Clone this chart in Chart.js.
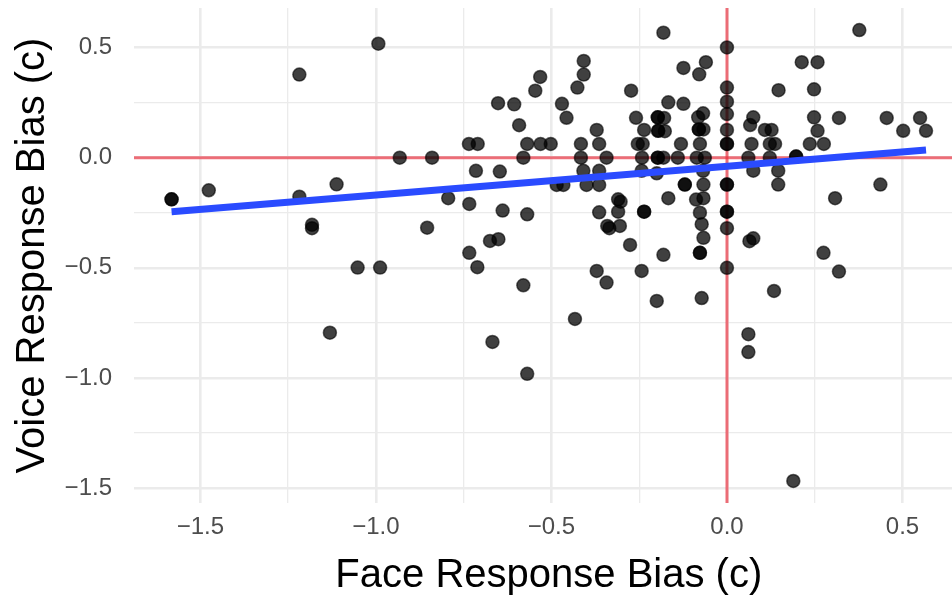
<!DOCTYPE html>
<html>
<head>
<meta charset="utf-8">
<script src="https://cdn.jsdelivr.net/npm/chart.js@4.4.1/dist/chart.umd.min.js"></script>
<style>
  html, body { margin: 0; padding: 0; background: #fff; overflow: hidden; }
  canvas { display: block; }
</style>
</head>
<body>
<canvas id="biasChart" width="952" height="599"></canvas>
<script>
// face bias (x) and voice bias (y), one entry per participant
const faceBias = [
  -1.582, -1.582, -1.476, -1.218, -1.218, -1.182, -1.182, -1.112, -1.131, -1.052,
  -0.988, -0.993, -0.932, -0.840, -0.854, -0.794, -0.735, -0.710, -0.715, -0.734,
  -0.734, -0.711, -0.675, -0.651, -0.668, -0.652, -0.606, -0.647, -0.639, -0.592,
  -0.580, -0.569, -0.569, -0.580, -0.569, -0.546, -0.532, -0.531, -0.502, -0.485,
  -0.466, -0.470, -0.457, -0.433, -0.426, -0.408, -0.408, -0.416, -0.416, -0.409,
  -0.400, -0.371, -0.364, -0.364, -0.364, -0.364, -0.371, -0.343, -0.341, -0.335,
  -0.343, -0.310, -0.303, -0.310, -0.305, -0.276, -0.273, -0.259, -0.254, -0.240,
  -0.242, -0.243, -0.236, -0.236, -0.236, -0.243, -0.200, -0.200, -0.197, -0.197,
  -0.179, -0.196, -0.196, -0.177, -0.197, -0.197, -0.181, -0.181, -0.181, -0.167,
  -0.167, -0.140, -0.131, -0.124, -0.124, -0.120, -0.120, -0.060, -0.079, -0.082,
  -0.068, -0.080, -0.080, -0.067, -0.077, -0.086, -0.063, -0.068, -0.067, -0.088,
  -0.067, -0.077, -0.072, -0.067, -0.077, -0.077, -0.072, 0.000, 0.000, 0.000,
  0.000, 0.000, 0.000, 0.000, 0.000, 0.000, 0.000, 0.000, 0.000, 0.000,
  0.061, 0.070, 0.075, 0.066, 0.075, 0.075, 0.064, 0.061, 0.061, 0.108,
  0.127, 0.122, 0.137, 0.122, 0.146, 0.146, 0.147, 0.134, 0.189, 0.197,
  0.197, 0.213, 0.258, 0.248, 0.248, 0.258, 0.236, 0.276, 0.275, 0.308,
  0.319, 0.319, 0.377, 0.437, 0.455, 0.502, 0.550, 0.567
];
const voiceBias = [
  -0.189, -0.189, -0.148, 0.377, -0.177, -0.305, -0.320, -0.121, -0.794, -0.499,
  -0.499, 0.517, 0.000, 0.000, -0.318, -0.184, 0.062, 0.062, -0.060, -0.210,
  -0.432, -0.497, -0.378, -0.370, -0.836, 0.247, 0.242, -0.063, -0.240, 0.147,
  0.000, 0.062, -0.257, -0.579, -0.981, 0.304, 0.366, 0.062, 0.062, -0.124,
  -0.124, 0.244, 0.181, -0.732, 0.318, 0.439, 0.377, 0.062, 0.000, -0.060,
  -0.124, 0.126, 0.062, -0.060, -0.124, -0.248, -0.514, 0.000, -0.310, -0.320,
  -0.567, -0.189, -0.200, -0.245, -0.310, -0.396, 0.304, 0.181, 0.062, 0.062,
  0.000, -0.060, 0.126, -0.245, -0.245, -0.514, -0.071, -0.650, 0.183, 0.183,
  0.180, 0.122, 0.122, 0.120, 0.000, 0.000, 0.000, 0.567, -0.441, 0.251,
  -0.184, 0.000, 0.062, 0.407, 0.244, -0.122, -0.122, 0.433, 0.378, 0.183,
  0.201, 0.128, 0.128, 0.128, 0.062, 0.000, 0.000, -0.060, -0.122, -0.190,
  -0.184, -0.250, -0.302, -0.364, -0.432, -0.432, -0.637, 0.500, 0.318, 0.254,
  0.198, 0.126, 0.062, 0.062, -0.122, -0.122, -0.245, -0.245, -0.320, -0.500,
  0.000, 0.062, 0.183, 0.148, -0.059, -0.366, -0.379, -0.801, -0.882, 0.126,
  0.126, 0.062, 0.062, 0.000, -0.059, -0.122, 0.306, -0.605, -1.467, 0.005,
  0.005, 0.433, 0.433, 0.310, 0.183, 0.122, 0.062, 0.062, -0.432, -0.184,
  0.180, -0.517, 0.579, -0.122, 0.180, 0.122, 0.180, 0.122
];

// linear fit, end points
const fitX = [-1.582, 0.567];
const fitY = [-0.245, 0.035];

// axis ranges and ticks
const xMin = -1.689, xMax = 0.641;
const xPanelEnd = 0.674;   // the original panel runs past the right edge of the picture
const yMin = -1.567, yMax = 0.679;
const xMajor = [-1.5, -1.0, -0.5, 0.0, 0.5];
const xLabels = ["\u22121.5", "\u22121.0", "\u22120.5", "0.0", "0.5"];
const xMinor = [-1.25, -0.75, -0.25, 0.25];
const yMajor = [-1.5, -1.0, -0.5, 0.0, 0.5];
const yLabels = ["\u22121.5", "\u22121.0", "\u22120.5", "0.0", "0.5"];
const yMinor = [-1.25, -0.75, -0.25, 0.25];
const xTitle = "Face Response Bias (c)";
const yTitle = "Voice Response Bias (c)";

const fontFamily = '"Liberation Sans", Arial, sans-serif';
Chart.defaults.font.family = fontFamily;

const points = faceBias.map((x, i) => ({ x: x, y: voiceBias[i] }));
const gridColor = "#EBEBEB";
const refColor = "rgba(235, 40, 55, 0.65)";

function tickList(major, minor) {
    return major.concat(minor).sort((a, b) => a - b).map(v => ({ value: v }));
}

// x title centred on the full panel width, not just the visible part
const xTitlePlugin = {
    id: "xTitle",
    afterDraw(chart) {
        const sx = chart.scales.x;
        const cx = (sx.getPixelForValue(xMin) + sx.getPixelForValue(xPanelEnd)) / 2;
        const c = chart.ctx;
        c.save();
        c.font = "40px " + fontFamily;
        c.fillStyle = "#000";
        c.textAlign = "center";
        c.textBaseline = "middle";
        c.fillText(xTitle, cx, 576);
        c.restore();
    }
};

const ctx = document.getElementById("biasChart").getContext("2d");
const chart = new Chart(ctx, {
    type: "scatter",
    data: {
        datasets: [
            {
                // regression line, drawn on top
                type: "line",
                data: fitX.map((x, i) => ({ x: x, y: fitY[i] })),
                borderColor: "#2A4BFF",
                borderWidth: 7,
                pointRadius: 0,
                borderCapStyle: "butt",
                order: 0
            },
            {
                data: points,
                backgroundColor: "rgba(0,0,0,0.75)",
                borderColor: "rgba(0,0,0,0.6)",
                borderWidth: 1.5,
                pointRadius: 6.5,
                pointHoverRadius: 6.5,
                order: 1
            },
            {
                type: "line",
                data: [{ x: 0, y: yMin }, { x: 0, y: yMax }],
                borderColor: refColor,
                borderWidth: 3,
                pointRadius: 0,
                order: 2
            },
            {
                type: "line",
                data: [{ x: xMin, y: 0 }, { x: xMax, y: 0 }],
                borderColor: refColor,
                borderWidth: 3,
                pointRadius: 0,
                order: 3
            }
        ]
    },
    options: {
        responsive: false,
        animation: false,
        layout: { autoPadding: false, padding: { top: 8, right: 0, bottom: 0, left: 0 } },
        plugins: {
            legend: { display: false },
            tooltip: { enabled: false }
        },
        scales: {
            x: {
                type: "linear",
                min: xMin,
                max: xMax,
                afterBuildTicks: s => { s.ticks = tickList(xMajor, xMinor); },
                afterFit: s => { s.height = 96; s.paddingLeft = 0; s.paddingRight = 0; },
                border: { display: false },
                grid: {
                    color: gridColor,
                    drawTicks: false,
                    lineWidth: c => (xMajor.includes(c.tick.value) ? 2.6 : 1.3)
                },
                ticks: {
                    autoSkip: false,
                    maxRotation: 0,
                    padding: 10,
                    color: "#4D4D4D",
                    font: { size: 24 },
                    callback: v => { const i = xMajor.indexOf(v); return i >= 0 ? xLabels[i] : ""; }
                },
                title: { display: false }
            },
            y: {
                type: "linear",
                min: yMin,
                max: yMax,
                afterBuildTicks: s => { s.ticks = tickList(yMajor, yMinor); },
                afterFit: s => { s.width = 134; s.paddingTop = 0; s.paddingBottom = 0; },
                border: { display: false },
                grid: {
                    color: gridColor,
                    drawTicks: false,
                    lineWidth: c => (yMajor.includes(c.tick.value) ? 2.6 : 1.3)
                },
                ticks: {
                    autoSkip: false,
                    padding: 22,
                    color: "#4D4D4D",
                    font: { size: 24 },
                    callback: v => { const i = yMajor.indexOf(v); return i >= 0 ? yLabels[i] : ""; }
                },
                title: {
                    display: true,
                    text: yTitle,
                    color: "#000",
                    font: { size: 40 },
                    padding: { top: 9, bottom: 0 }
                }
            }
        }
    },
    plugins: [xTitlePlugin]
});
</script>
</body>
</html>
